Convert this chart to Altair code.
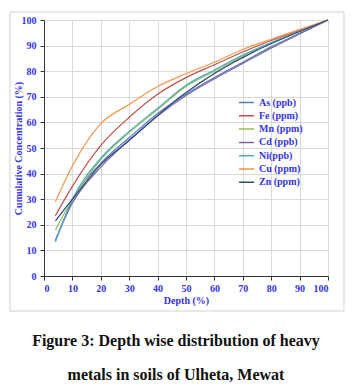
import altair as alt
import pandas as pd

depth = [4, 10, 20, 30, 40, 50, 60, 70, 80, 90, 100]
as_vals = [13.5, 29.5, 44, 54, 63.5, 71, 77.5, 83.5, 89.5, 94.8, 100]
fe_vals = [23.5, 35, 51, 62, 71, 77.5, 82.5, 87.5, 92, 96, 100]
mn_vals = [18, 30, 45.5, 56, 65, 74, 80, 86, 91, 95.5, 100]
cd_vals = [14, 28.5, 42.5, 53, 62.5, 70.5, 77, 83, 89, 94.5, 100]
ni_vals = [13.5, 30, 46, 56.5, 65.5, 74.5, 80.5, 86.3, 91.2, 95.6, 100]
cu_vals = [29, 43, 59.5, 67, 74, 79, 83.5, 88.5, 92.5, 96.3, 100]
zn_depth = [4, 10, 20, 30, 48, 100]
zn_vals = [21.5, 30, 43.5, 53, 70, 100]

names = ["As (ppb)", "Fe (ppm)", "Mn (ppm)", "Cd (ppb)", "Ni(ppb)", "Cu (ppm)", "Zn (ppm)"]
colors = ["#4F81BD", "#C0504D", "#9BBB59", "#8064A2", "#4BACC6", "#F79646", "#2E4A78"]

rows = []
for name, vals in zip(names[:6], [as_vals, fe_vals, mn_vals, cd_vals, ni_vals, cu_vals]):
    for i, (d, v) in enumerate(zip(depth, vals)):
        rows.append({"metal": name, "depth": d, "conc": v, "order": i})
for i, (d, v) in enumerate(zip(zn_depth, zn_vals)):
    rows.append({"metal": names[6], "depth": d, "conc": v, "order": i})
df = pd.DataFrame(rows)

serif = "Liberation Serif"
blue = "#3333EE"

lines = alt.Chart(df).mark_line(strokeWidth=1.2, interpolate="monotone").encode(
    x=alt.X("depth:Q", scale=alt.Scale(domain=[0, 100]),
            axis=alt.Axis(values=list(range(0, 101, 10)), title="Depth (%)")),
    y=alt.Y("conc:Q", scale=alt.Scale(domain=[0, 100]),
            axis=alt.Axis(values=list(range(0, 101, 10)), title="Cumulative Concentration (%)")),
    color=alt.Color("metal:N", scale=alt.Scale(domain=names, range=colors),
                    legend=alt.Legend(title=None, orient="none", legendX=194, legendY=76,
                                      symbolType="stroke", symbolSize=225, symbolStrokeWidth=1.5,
                                      labelFont=serif, labelFontWeight="bold", labelFontSize=10,
                                      labelColor=blue, rowPadding=0.3, clipHeight=13,
                                      labelOffset=4)),
    order="order:Q",
)

frame = alt.Chart(pd.DataFrame({"a": [0]})).mark_rect(fill=None, stroke="#D0D0D0", strokeWidth=1).encode(
    x=alt.value(-34), x2=alt.value(300), y=alt.value(-8), y2=alt.value(291)
)

cap1 = alt.Chart(pd.DataFrame({"t": ["Figure 3: Depth wise distribution  of heavy"]})).mark_text(
    font=serif, fontWeight="bold", fontSize=16, color="#111111", align="center", baseline="middle"
).encode(text="t:N", x=alt.value(132), y=alt.value(321))

cap2 = alt.Chart(pd.DataFrame({"t": ["metals in soils of Ulheta, Mewat"]})).mark_text(
    font=serif, fontWeight="bold", fontSize=16, color="#111111", align="center", baseline="middle"
).encode(text="t:N", x=alt.value(132), y=alt.value(355))

chart = alt.layer(frame, lines, cap1, cap2).properties(
    width=284, height=256,
    autosize=alt.AutoSizeParams(type="none"),
    padding={"left": 44, "top": 20, "right": 24, "bottom": 111},
).configure_view(stroke=None).configure_axis(
    grid=True, gridColor="#D9D9D9", gridWidth=1,
    domainColor="#333333", tickColor="#333333", tickSize=4,
    labelFont=serif, labelFontWeight="bold", labelFontSize=10, labelColor=blue,
    titleFont=serif, titleFontWeight="bold", titleFontSize=10, titleColor=blue,
).configure_axisY(domain=True, labelPadding=4, titlePadding=-2).configure_axisX(
    labelPadding=3, titlePadding=2, domain=True
)

chart.save("out.html", embed_options={"renderer": "svg", "actions": False})
